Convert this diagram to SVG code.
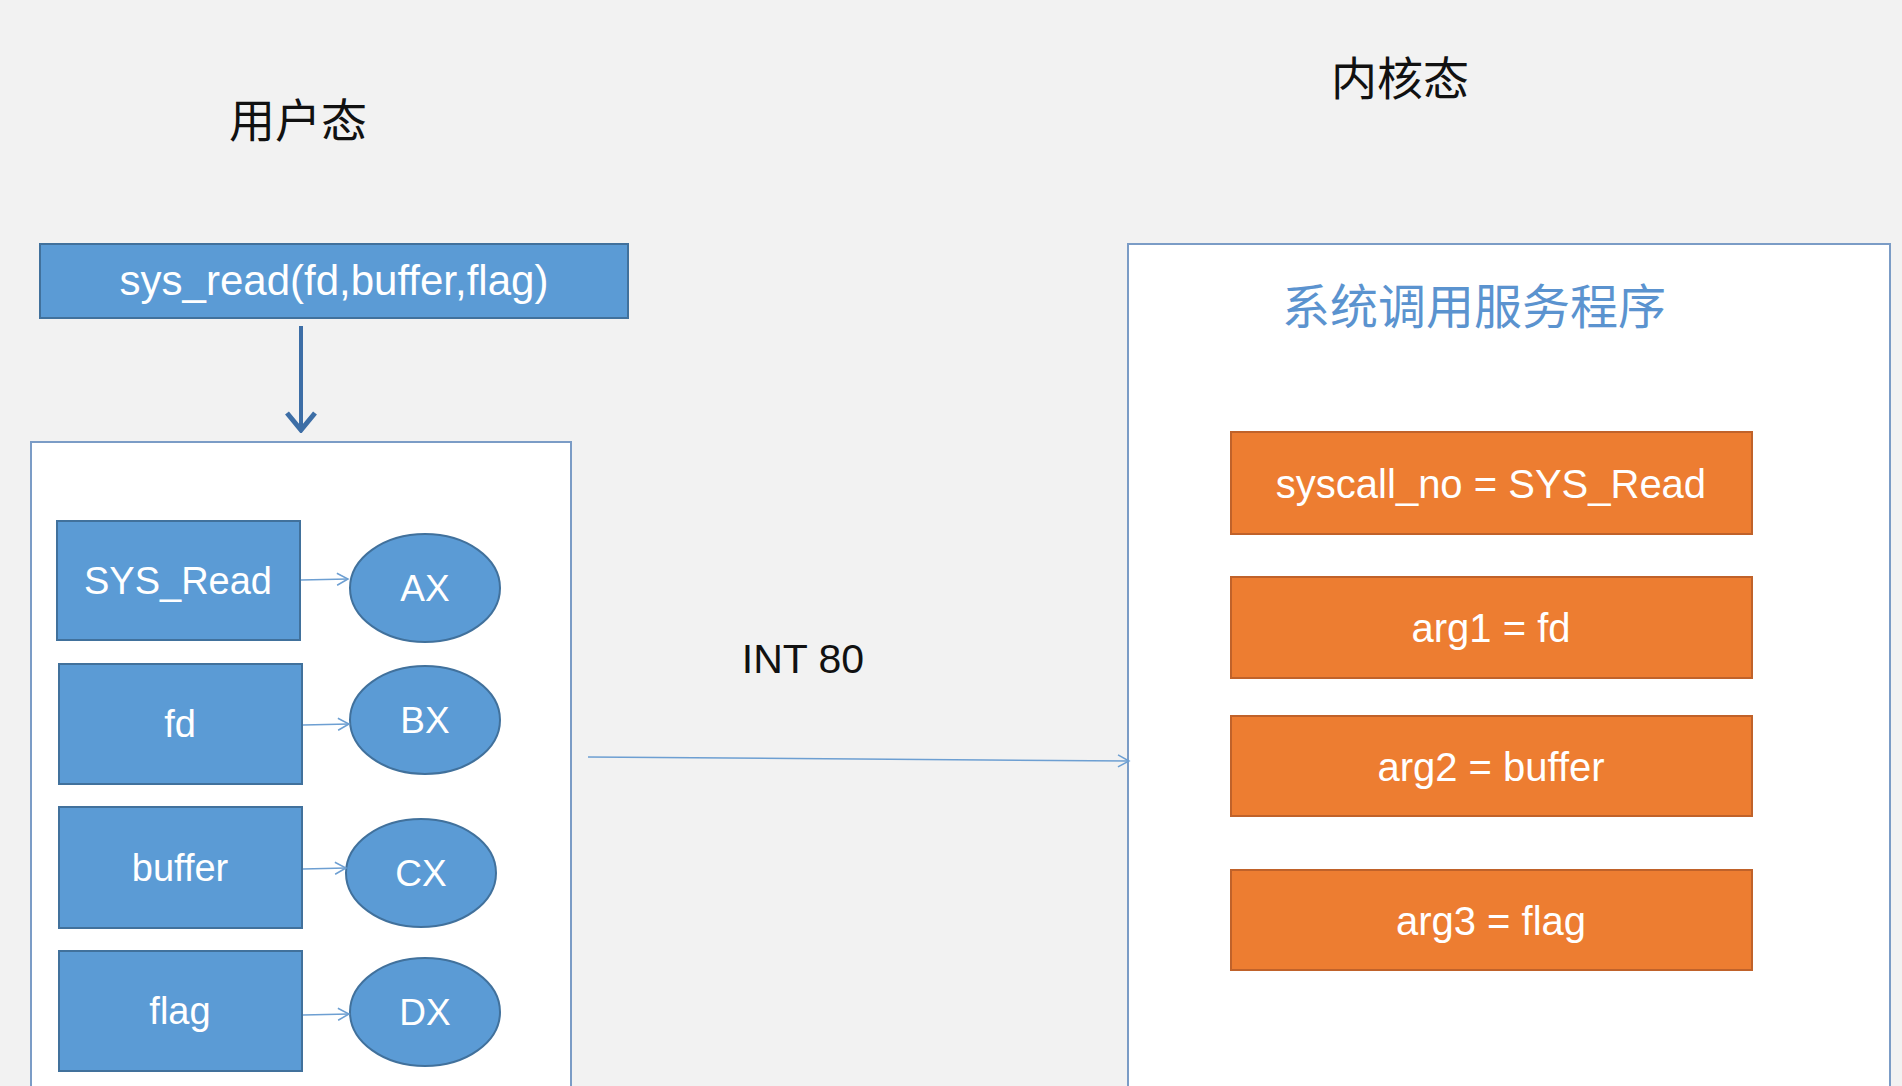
<svg xmlns="http://www.w3.org/2000/svg" width="1902" height="1086" viewBox="0 0 1902 1086">
<style>
.bg{fill:#f2f2f2}
.cont{fill:#ffffff;stroke:#7b9cc6;stroke-width:2}
.blue{fill:#5b9bd5;stroke:#41719c;stroke-width:2}
.orange{fill:#ed7d31;stroke:#c0622a;stroke-width:2}
.wt{fill:#ffffff;font-family:"Liberation Sans",Arial,sans-serif;text-anchor:middle}
.cjk{font-family:"Noto Sans CJK SC","Noto Sans",sans-serif;text-anchor:middle}
.lbl{fill:#111111;font-family:"Liberation Sans",Arial,sans-serif;text-anchor:middle}
.thin{stroke:#6d9fd2;stroke-width:1.5;fill:none}
.thick{stroke:#3d6ea6;stroke-width:4;fill:none}
</style>
<defs>
<marker id="open" markerWidth="14" markerHeight="14" refX="12" refY="7" orient="auto" markerUnits="userSpaceOnUse">
<path d="M1,1 L12,7 L1,13" fill="none" stroke="#6d9fd2" stroke-width="1.5"/>
</marker>
<marker id="down" markerWidth="34" markerHeight="24" refX="17" refY="21" orient="0" markerUnits="userSpaceOnUse">
<path d="M3,4 L17,21 L31,4" fill="none" stroke="#3d6ea6" stroke-width="5"/>
</marker>
</defs>
<rect class="bg" x="0" y="0" width="1902" height="1086"/>

<g id="label-user"><text class="cjk" x="298" y="137" font-size="46" fill="#111">用户态</text></g>
<g id="label-kernel"><text class="cjk" x="1400" y="95" font-size="46" fill="#111">内核态</text></g>

<g id="call">
<rect class="blue" x="40" y="244" width="588" height="74"/>
<text class="wt" x="334" y="295" font-size="42">sys_read(fd,buffer,flag)</text>
</g>

<g id="user-container"><rect class="cont" x="31" y="442" width="540" height="660"/></g>

<g id="box-sysread"><rect class="blue" x="57" y="521" width="243" height="119"/><text class="wt" x="178" y="594" font-size="38">SYS_Read</text></g>
<g id="box-fd"><rect class="blue" x="59" y="664" width="243" height="120"/><text class="wt" x="180" y="737" font-size="38">fd</text></g>
<g id="box-buffer"><rect class="blue" x="59" y="807" width="243" height="121"/><text class="wt" x="180" y="881" font-size="38">buffer</text></g>
<g id="box-flag"><rect class="blue" x="59" y="951" width="243" height="120"/><text class="wt" x="180" y="1024" font-size="38">flag</text></g>

<g id="reg-ax"><ellipse class="blue" cx="425" cy="588" rx="75" ry="54"/><text class="wt" x="425" y="601" font-size="37">AX</text></g>
<g id="reg-bx"><ellipse class="blue" cx="425" cy="720" rx="75" ry="54"/><text class="wt" x="425" y="733" font-size="37">BX</text></g>
<g id="reg-cx"><ellipse class="blue" cx="421" cy="873" rx="75" ry="54"/><text class="wt" x="421" y="886" font-size="37">CX</text></g>
<g id="reg-dx"><ellipse class="blue" cx="425" cy="1012" rx="75" ry="54"/><text class="wt" x="425" y="1025" font-size="37">DX</text></g>

<g id="int-label"><text class="lbl" x="803" y="673" font-size="41">INT 80</text></g>

<g id="kernel-container">
<rect class="cont" x="1128" y="244" width="762" height="860"/>
<text class="cjk" x="1474" y="324" font-size="48" fill="#5b93cf">系统调用服务程序</text>
</g>

<g id="k-syscall"><rect class="orange" x="1231" y="432" width="521" height="102"/><text class="wt" x="1491" y="498" font-size="40">syscall_no = SYS_Read</text></g>
<g id="k-arg1"><rect class="orange" x="1231" y="577" width="521" height="101"/><text class="wt" x="1491" y="642" font-size="40">arg1 = fd</text></g>
<g id="k-arg2"><rect class="orange" x="1231" y="716" width="521" height="100"/><text class="wt" x="1491" y="781" font-size="40">arg2 = buffer</text></g>
<g id="k-arg3"><rect class="orange" x="1231" y="870" width="521" height="100"/><text class="wt" x="1491" y="935" font-size="40">arg3 = flag</text></g>

<g id="connectors">
<line class="thick" x1="301" y1="326" x2="301" y2="430" marker-end="url(#down)"/>
<line class="thin" x1="301" y1="580" x2="348" y2="579" marker-end="url(#open)"/>
<line class="thin" x1="303" y1="725" x2="349" y2="724" marker-end="url(#open)"/>
<line class="thin" x1="303" y1="869" x2="346" y2="868" marker-end="url(#open)"/>
<line class="thin" x1="303" y1="1015" x2="349" y2="1014" marker-end="url(#open)"/>
<line class="thin" x1="588" y1="757" x2="1129" y2="761" marker-end="url(#open)"/>
</g>
</svg>
